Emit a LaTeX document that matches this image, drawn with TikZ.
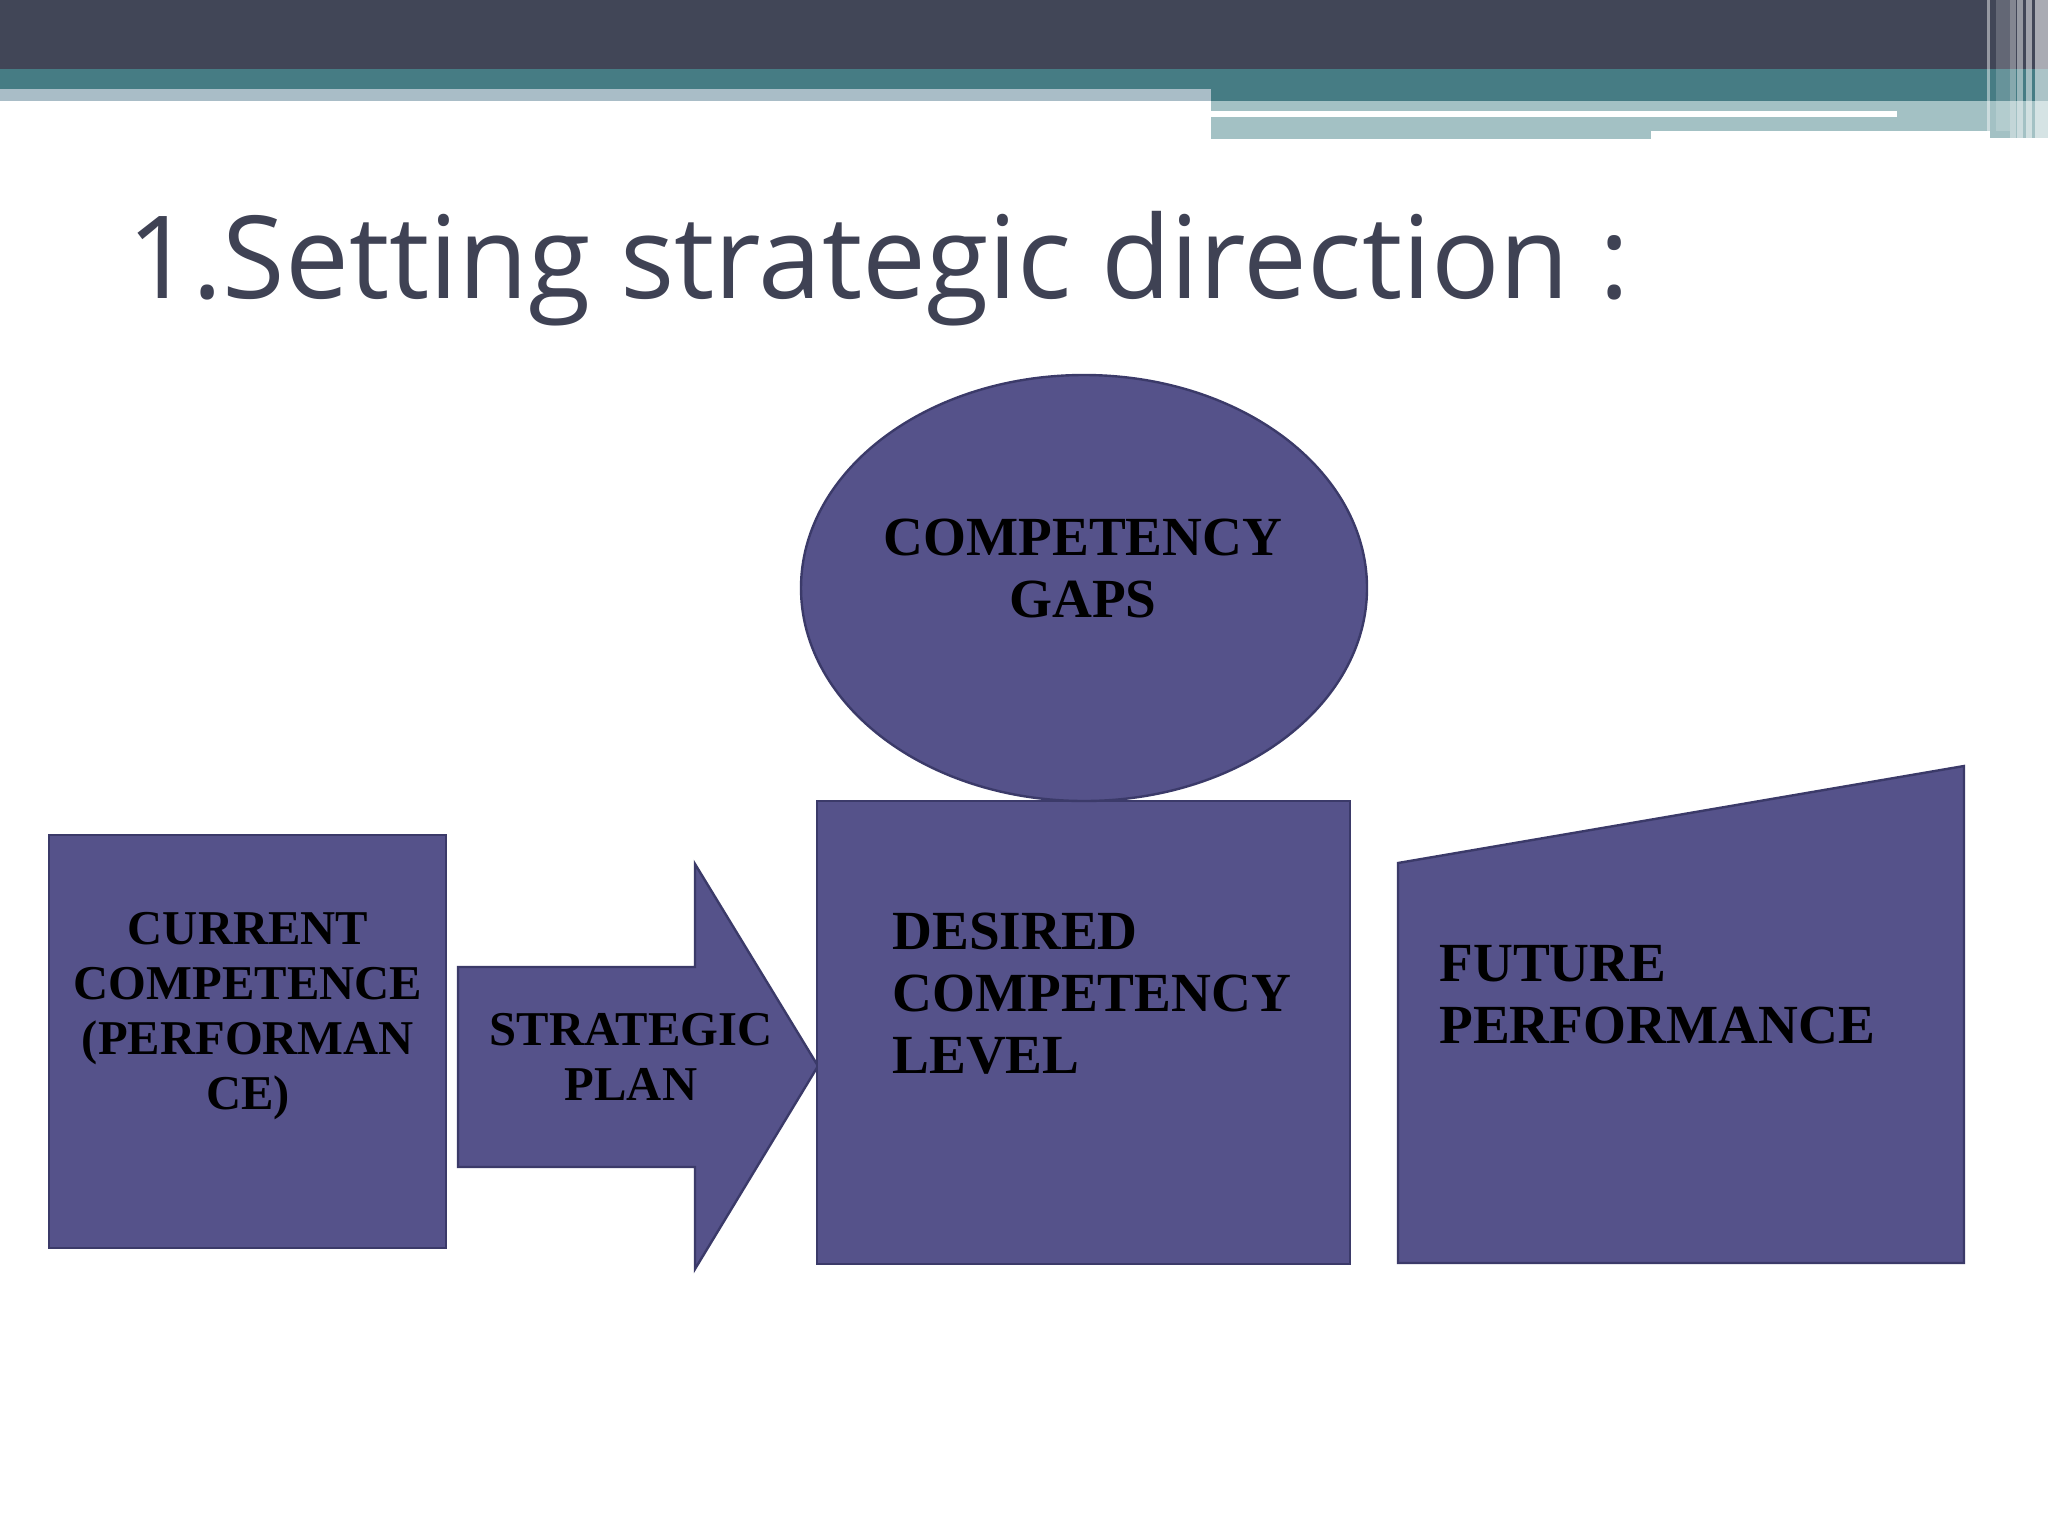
\documentclass[tikz,border=0pt]{standalone}
\usepackage{fontspec}
\usepackage{graphicx}
\setmainfont{Liberation Serif}
\newfontfamily\titlefont{Open Sans}
\definecolor{bandDark}{HTML}{414657}
\definecolor{bandTeal}{HTML}{467C84}
\definecolor{bandLightA}{HTML}{A9BDC7}
\definecolor{bandLightB}{HTML}{A3C1C4}
\definecolor{titleCol}{HTML}{3F4254}
\definecolor{shapeFill}{HTML}{55528A}
\definecolor{shapeLine}{HTML}{3B3A69}
\tikzset{
  shapebox/.style={fill=shapeFill, draw=shapeLine, line width=1.2pt, line join=miter},
  smalltxt/.style={inner sep=0pt, font=\bfseries\fontsize{24.3pt}{27.5pt}\selectfont, text=black},
  bigtxt/.style={inner sep=0pt, font=\bfseries\fontsize{27.6pt}{31pt}\selectfont, text=black},
}
\begin{document}
\begin{tikzpicture}[x=0.5pt,y=-0.5pt]
\useasboundingbox (0,0) rectangle (2048,1536);
\fill[white] (0,0) rectangle (2048,1536);
% top banner
\fill[bandDark] (0,0) rectangle (2048,69);
\fill[bandTeal] (0,69) rectangle (2048,101);
\fill[bandLightA] (0,89) rectangle (1211,101);
\fill[bandLightB] (1211,101) rectangle (2048,111);
\fill[bandLightB] (1897,111) rectangle (2048,117);
\fill[bandLightB] (1211,117) rectangle (1651,139);
\fill[bandLightB] (1651,117) rectangle (1990,131);
\fill[bandLightB] (1990,117) rectangle (2048,138);
% right vertical stripes
\fill[white,opacity=0.45] (1987,0) rectangle (1990,131);
\fill[white,opacity=0.18] (1996,0) rectangle (2010,131);
\fill[white,opacity=0.35] (2010,0) rectangle (2016,138);
\fill[white,opacity=0.45] (2017,0) rectangle (2023,138);
\fill[white,opacity=0.5] (2026,0) rectangle (2032,138);
\fill[white,opacity=0.55] (2035,0) rectangle (2048,138);
% title
\node[anchor=base west, inner sep=0pt, text=titleCol] (title) at (127,298)
  {\resizebox{751pt}{\height}{\titlefont\fontsize{57.4pt}{60pt}\selectfont 1.Setting strategic direction :}};
% shapes
\path[shapebox] (49,835) rectangle (446,1248);
\path[shapebox] (458,967) -- (695,967) -- (695,864) -- (818,1066) -- (695,1269) -- (695,1167) -- (458,1167) -- cycle;
\path[shapebox] (817,801) rectangle (1350,1264);
\path[shapebox] (1084,588) ellipse [x radius=283, y radius=213];
\path[shapebox] (1398,863) -- (1964,766) -- (1964,1263) -- (1398,1263) -- cycle;
% texts
\node[smalltxt, align=center, anchor=north] (current) at (248,912)
  {CURRENT\\COMPETENCE\\(PERFORMAN\\CE)};
\node[smalltxt, align=center, anchor=north] (strategic) at (631,1013)
  {STRATEGIC\\PLAN};
\node[bigtxt, align=center, anchor=north] (gaps) at (1083,519)
  {COMPETENCY\\GAPS};
\node[bigtxt, align=left, anchor=north west] (desired) at (892,913)
  {DESIRED\\COMPETENCY\\LEVEL};
\node[bigtxt, align=left, anchor=north west] (future) at (1439,945)
  {FUTURE\\PERFORMANCE};
\end{tikzpicture}
\end{document}
